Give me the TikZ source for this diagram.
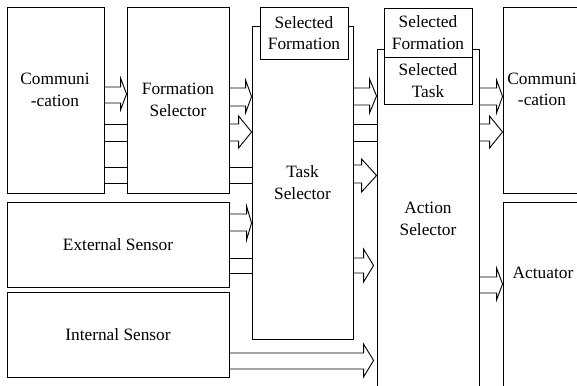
\documentclass[tikz,border=0pt]{standalone}
\usepackage{fontspec}
\setmainfont{Liberation Serif}
\usetikzlibrary{calc}

% hollow block arrow: [gap]{from}{to}{shaft top}{shaft bottom}{head top}{head bottom}{head length}
\newcommand\blockarr[8][0]{%
  \draw[conn] (#2.east |- 0,#4)
    -- ($(#3.west |- 0,#4)+(-#1-#8,0)$)
    -- ($(#3.west |- 0,#6)+(-#1-#8,0)$)
    -- ($(#3.west |- 0,#6)!0.5!(#3.west |- 0,#7)+(-#1,0)$)
    -- ($(#3.west |- 0,#7)+(-#1-#8,0)$)
    -- ($(#3.west |- 0,#5)+(-#1-#8,0)$)
    -- (#2.east |- 0,#5);}
% plain signal line between two blocks at height y
\newcommand\wire[3]{\draw[conn] (#1.east |- 0,#3) -- (#2.west |- 0,#3);}

\begin{document}
\begin{tikzpicture}[x=1pt,y=-1pt,
  font=\fontsize{17.3}{21.5}\selectfont,
  box/.style={draw, fill=white, line width=0.9pt, inner sep=0pt, align=center},
  lbl/.style={inner sep=0pt, align=center},
  conn/.style={draw, line width=0.9pt, line join=miter}]
\useasboundingbox (0,0) rectangle (577,385);
\clip (0,0) rectangle (577,385);

% input blocks
\node[box, minimum width=97, minimum height=186] (comm) at (55.5,100) {};
\node[lbl] (commtxt) at (55,90) {Communi\\-cation};
\node[box, minimum width=102, minimum height=186] (fs) at (178,100) {Formation\\Selector};
\node[box, minimum width=222, minimum height=85] (ext) at (118,244.5) {External Sensor};
\node[box, minimum width=222, minimum height=85] (int) at (118,334.5) {Internal Sensor};

% task selector with its stored formation
\node[box, minimum width=101, minimum height=313] (ts) at (302.5,182.5) {Task\\Selector};
\node[box, minimum width=88, minimum height=52] (sf1) at (304,33) {Selected\\Formation};

% action selector with stored formation and task
\node[box, minimum width=102, minimum height=340] (as) at (428,219) {Action\\Selector};
\node[box, minimum width=88, minimum height=49] (sf2) at (428,32.5) {Selected\\Formation};
\node[box, minimum width=88, minimum height=47] (st) at (428,80.5) {Selected\\Task};

% output blocks
\node[box, minimum width=78, minimum height=186] (rc) at (542,100) {};
\node[lbl] (rctxt) at (542,89.5) {Communi\\-cation};
\node[box, minimum width=78, minimum height=198] (act) at (542,301) {};
\node[lbl] (acttxt) at (543,273) {Actuator};

% communication -> formation selector
\blockarr{comm}{fs}{87}{103}{78}{110}{6}
\wire{comm}{fs}{124}
\wire{comm}{fs}{141}
\wire{comm}{fs}{167}
\wire{comm}{fs}{183}

% formation selector -> task selector
\blockarr{fs}{ts}{88}{106}{80}{113}{6}
\blockarr{fs}{ts}{124}{141}{116}{148}{13}
\wire{fs}{ts}{167}
\wire{fs}{ts}{183}

% external sensor -> task selector
\blockarr{ext}{ts}{214}{231}{206}{240}{5}
\wire{ext}{ts}{258}
\wire{ext}{ts}{273}

% internal sensor -> action selector
\blockarr[3]{int}{as}{353}{369}{344}{377}{10}

% task selector -> action selector
\blockarr{ts}{as}{88}{105}{79}{113}{7}
\wire{ts}{as}{124}
\wire{ts}{as}{141}
\blockarr{ts}{as}{165}{183}{159}{192}{15}
\blockarr[3]{ts}{as}{258}{273}{249}{282}{10}

% action selector -> outputs
\blockarr{as}{rc}{88}{105}{80}{113}{6}
\blockarr{as}{rc}{124}{141}{116}{148}{13}
\blockarr{as}{act}{277}{293}{268}{300}{6}
\end{tikzpicture}
\end{document}
